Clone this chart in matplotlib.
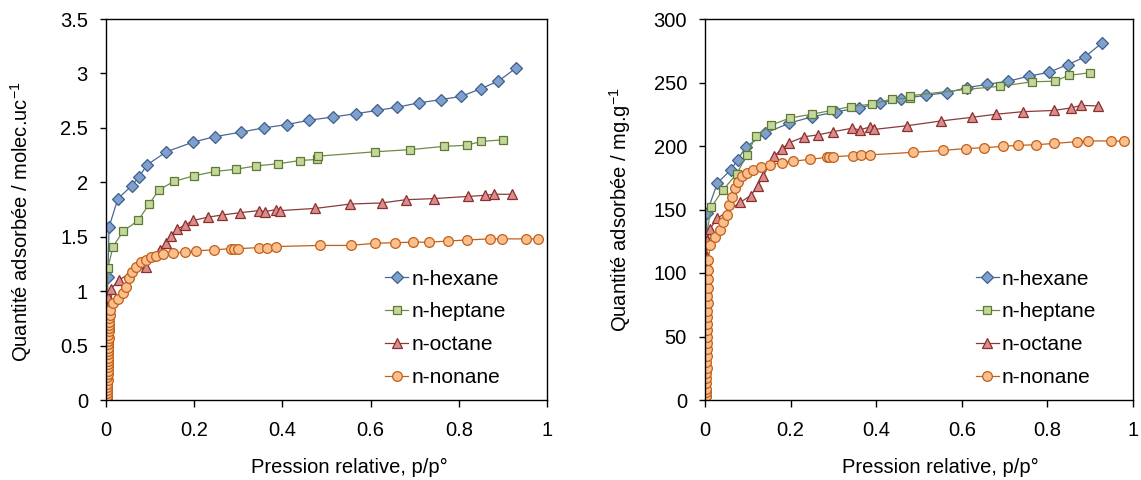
import matplotlib
matplotlib.use("Agg")
import matplotlib.pyplot as plt
from matplotlib.ticker import FuncFormatter, MultipleLocator

plt.rcParams['font.family'] = ['Liberation Sans', 'DejaVu Sans']
plt.rcParams['mathtext.fontset'] = 'custom'
plt.rcParams['mathtext.rm'] = 'Liberation Sans'
plt.rcParams['mathtext.it'] = 'Liberation Sans'
plt.rcParams['mathtext.default'] = 'regular'

labels = ["n-hexane", "n-heptane", "n-octane", "n-nonane"]

# ---- Left panel: molec/uc ----
hex_x_L = [0.0005, 0.001, 0.002, 0.003, 0.004, 0.007, 0.027, 0.059, 0.075, 0.093, 0.137, 0.198, 0.248, 0.305, 0.358,
           0.41, 0.46, 0.515, 0.566, 0.615, 0.66, 0.71, 0.76, 0.806, 0.85, 0.89, 0.93]
hex_y_L = [0.02, 0.25, 0.5, 0.75, 1.13, 1.59, 1.85, 1.97, 2.05, 2.16, 2.28, 2.37, 2.42, 2.46, 2.50,
           2.53, 2.57, 2.60, 2.63, 2.66, 2.69, 2.73, 2.76, 2.79, 2.86, 2.93, 3.05]
hep_x_L = [0.0005, 0.001, 0.0015, 0.002, 0.003, 0.004, 0.016, 0.039, 0.073, 0.098, 0.12, 0.155, 0.2, 0.248, 0.295, 0.34,
           0.39, 0.44, 0.478, 0.48, 0.61, 0.69, 0.767, 0.818, 0.85, 0.90]
hep_y_L = [0.02, 0.25, 0.49, 0.73, 0.96, 1.21, 1.41, 1.55, 1.65, 1.80, 1.93, 2.01, 2.06, 2.10, 2.12, 2.15,
           2.17, 2.20, 2.21, 2.24, 2.28, 2.30, 2.33, 2.34, 2.375, 2.39]
oct_x_L = [0.0005, 0.001, 0.0015, 0.002, 0.002, 0.003, 0.004, 0.011, 0.029, 0.053, 0.09, 0.122, 0.136, 0.148, 0.162, 0.18,
           0.198, 0.232, 0.264, 0.303, 0.346, 0.36, 0.386, 0.395, 0.475, 0.553, 0.625, 0.68, 0.743, 0.82,
           0.86, 0.88, 0.92]
oct_y_L = [0.05, 0.2, 0.35, 0.5, 0.65, 0.8, 0.95, 1.02, 1.10, 1.16, 1.22, 1.38, 1.44, 1.51, 1.57, 1.61,
           1.65, 1.68, 1.70, 1.72, 1.74, 1.73, 1.75, 1.74, 1.76, 1.80, 1.81, 1.84, 1.85, 1.87,
           1.88, 1.89, 1.89]
non_x_L = [0.001, 0.002, 0.002, 0.003, 0.002, 0.003, 0.003, 0.004, 0.003, 0.004, 0.004, 0.005, 0.004, 0.005,
           0.004, 0.005, 0.005, 0.004, 0.005, 0.005, 0.006, 0.005, 0.006, 0.006, 0.006, 0.007, 0.007, 0.008,
           0.008, 0.015, 0.027, 0.038, 0.046, 0.053, 0.06, 0.068, 0.079, 0.09, 0.102, 0.113, 0.13, 0.153,
           0.18, 0.205, 0.244, 0.284, 0.29, 0.30, 0.346, 0.366, 0.386, 0.486, 0.555, 0.61, 0.655, 0.697,
           0.733, 0.775, 0.818, 0.87, 0.898, 0.952, 0.98]
non_y_L = [0.0, 0.02, 0.04, 0.06, 0.09, 0.12, 0.15, 0.18, 0.21, 0.24, 0.27, 0.30, 0.33, 0.36,
           0.39, 0.42, 0.45, 0.48, 0.51, 0.54, 0.57, 0.60, 0.63, 0.66, 0.69, 0.72, 0.75, 0.78,
           0.83, 0.89, 0.93, 0.98, 1.04, 1.12, 1.18, 1.22, 1.27, 1.29, 1.31, 1.32, 1.34, 1.35,
           1.36, 1.37, 1.38, 1.39, 1.39, 1.39, 1.40, 1.40, 1.41, 1.42, 1.42, 1.44, 1.445, 1.45,
           1.45, 1.46, 1.47, 1.48, 1.48, 1.48, 1.48]

# ---- Right panel: mg/g ----
hex_x_R = [0.0005, 0.001, 0.002, 0.003, 0.004, 0.029, 0.06, 0.076, 0.095, 0.14, 0.197, 0.25, 0.307, 0.36, 0.41,
           0.458, 0.516, 0.565, 0.613, 0.658, 0.708, 0.757, 0.803, 0.847, 0.887, 0.927]
hex_y_R = [2, 30, 60, 95, 147, 171, 181, 189, 199, 210, 218, 223, 227, 230, 234,
           237, 240, 242, 246, 248.5, 251, 255, 258, 264, 270, 281]
hep_x_R = [0.0005, 0.001, 0.0015, 0.002, 0.003, 0.004, 0.015, 0.041, 0.074, 0.098, 0.119, 0.155, 0.198, 0.249, 0.295,
           0.34, 0.39, 0.437, 0.478, 0.48, 0.61, 0.69, 0.765, 0.817, 0.85, 0.90]
hep_y_R = [0, 26, 52.5, 79, 105, 131, 152, 165, 178, 193, 208, 216.5, 222, 225, 228,
           231, 233, 237, 237.5, 239.6, 244.6, 247, 250.6, 251, 255.6, 257.7]
oct_x_R = [0.0005, 0.001, 0.0015, 0.002, 0.002, 0.003, 0.004, 0.005, 0.012, 0.029, 0.082, 0.107, 0.123, 0.136, 0.162,
           0.179, 0.197, 0.232, 0.263, 0.30, 0.344, 0.361, 0.385, 0.394, 0.473, 0.551, 0.624, 0.68,
           0.742, 0.815, 0.856, 0.878, 0.919]
oct_y_R = [8, 23.6, 39, 56.4, 70.9, 91.9, 112.8, 126, 135, 143, 155.6, 161, 168.5, 176.6, 192,
           197.6, 202.6, 207.3, 208.7, 211.3, 214, 212.6, 215, 213, 216, 219.7, 222.6, 225,
           227, 228, 230, 232, 231.5]
non_x_R = [0.001, 0.002, 0.002, 0.003, 0.002, 0.003, 0.003, 0.004, 0.003, 0.004, 0.004, 0.005, 0.004, 0.005,
           0.004, 0.005, 0.005, 0.006, 0.005, 0.006, 0.006, 0.007, 0.008, 0.012, 0.024, 0.036, 0.043,
           0.051, 0.057, 0.062, 0.07, 0.078, 0.086, 0.097, 0.113, 0.131, 0.152, 0.181, 0.206, 0.245,
           0.284, 0.29, 0.30, 0.345, 0.365, 0.386, 0.485, 0.555, 0.609, 0.653, 0.697, 0.732, 0.773,
           0.816, 0.868, 0.896, 0.948, 0.979]
non_y_R = [0, 3, 6, 9, 13, 17, 21, 25, 30, 35, 40, 45, 50, 55,
           60, 65, 70, 76, 82, 88, 95, 102, 110, 122, 128.6, 134, 140,
           145.7, 153.5, 160, 166.7, 172, 176, 179, 181, 183.7, 185, 187, 188, 189.5,
           191, 191.5, 191.5, 192.5, 193, 193, 195, 196.5, 198, 198.7, 199.7, 200.5, 201,
           202, 203.4, 204, 204, 203.7]

styles = [
    dict(marker='D', ms=6.2, mfc='#7FA0CE', mec='#3F5F8A', color='#4A6890'),
    dict(marker='s', ms=6.0, mfc='#C3D69B', mec='#5E7A30', color='#6F8A4A'),
    dict(marker='^', ms=7.5, mfc='#D98C8C', mec='#8B2E2C', color='#8B3A3A'),
    dict(marker='o', ms=7.0, mfc='#FBBF8E', mec='#C0601A', color='#C0601A'),
]

fig = plt.figure(figsize=(11.41, 4.80), dpi=100)
axL = fig.add_axes([106/1141, 80/480, (547-106)/1141, (400-19)/480])
axR = fig.add_axes([705/1141, 80/480, (1133-705)/1141, (400-19)/480])

fmt = FuncFormatter(lambda v, p: ('%g' % round(v, 6)))

def setup(ax, ymax, ystep, ylabel, data, ylab_xy):
    for (xs, ys), lab, st in zip(data, labels, styles):
        ax.plot(xs, ys, lw=0.9, mew=0.9, label=lab, **st)
    ax.set_xlim(0, 1)
    ax.set_ylim(0, ymax)
    ax.xaxis.set_major_locator(MultipleLocator(0.2))
    ax.yaxis.set_major_locator(MultipleLocator(ystep))
    ax.xaxis.set_major_formatter(fmt)
    ax.yaxis.set_major_formatter(fmt)
    ax.tick_params(direction='out', width=1, labelsize=14.5, top=False, right=False)
    ax.tick_params(axis='x', length=5, pad=10)
    ax.tick_params(axis='y', length=4.5, pad=8.5)
    for s in ax.spines.values():
        s.set_linewidth(1.0)
        s.set_color('black')
    ax.set_xlabel('Pression relative, p/p°', fontsize=14.5, va='center')
    ax.xaxis.set_label_coords(0.551, -0.178)
    ax.set_ylabel(ylabel, fontsize=14.5, va='center')
    ax.yaxis.set_label_coords(*ylab_xy)
    ax.legend(loc='upper left', bbox_to_anchor=(0.633, 0.342), frameon=False, fontsize=15,
              handlelength=1.1, handletextpad=0.15, labelspacing=0.66, borderpad=0,
              borderaxespad=0)

setup(axL, 3.5, 0.5, 'Quantité adsorbée / molec.uc$^{-1}$',
      [(hex_x_L, hex_y_L), (hep_x_L, hep_y_L), (oct_x_L, oct_y_L), (non_x_L, non_y_L)],
      (-0.193, 0.467))
setup(axR, 300, 50, 'Quantité adsorbée / mg.g$^{-1}$',
      [(hex_x_R, hex_y_R), (hep_x_R, hep_y_R), (oct_x_R, oct_y_R), (non_x_R, non_y_R)],
      (-0.199, 0.5))

fig.savefig('out.png', dpi=100)
